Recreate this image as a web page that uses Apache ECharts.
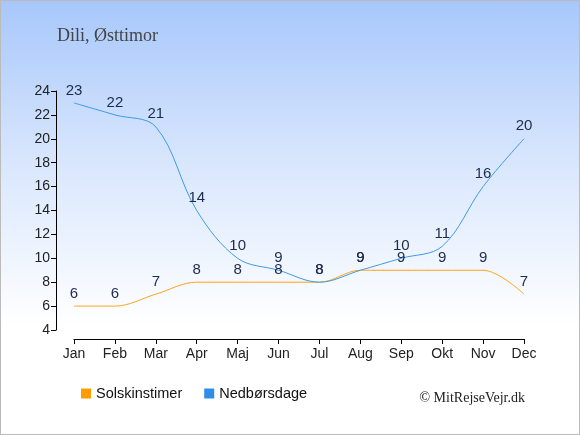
<!DOCTYPE html>
<html><head><meta charset="utf-8">
<script src="https://cdn.jsdelivr.net/npm/echarts@6/dist/echarts.min.js"></script>
<style>
html,body{margin:0;padding:0;}
#c{width:580px;height:435px;box-sizing:border-box;border:1px solid #bbb;background:linear-gradient(to bottom,#a7c7fb 0%,#d6e5fd 35%,#ffffff 75%,#ffffff 100%);}
</style></head>
<body><div id="c"></div>
<script>
const months = ['Jan','Feb','Mar','Apr','Maj','Jun','Jul','Aug','Sep','Okt','Nov','Dec'];
const solskinstimer = [6,6,7,8,8,8,8,9,9,9,9,7];
const nedboersdage = [23,22,21,14,10,9,8,9,10,11,16,20];
const yTicks = {min:4, max:24, interval:2};

const chart = echarts.init(document.getElementById('c'));
const labelStyle = {show:true, position:'top', distance:5, color:'#1d2b4a', fontSize:15, fontFamily:'Liberation Sans, Arial, sans-serif'};
chart.setOption({
  animation:false,
  title:{text:'Dili, Østtimor', left:51, top:21, textStyle:{fontFamily:'Liberation Serif, DejaVu Serif, serif', fontWeight:'normal', fontSize:18, color:'#444'}},
  grid:{left:73, right:55, top:90, bottom:104},
  legend:{bottom:28, left:75, itemWidth:10, itemHeight:10, itemGap:22, icon:'rect',
    textStyle:{fontFamily:'Liberation Sans, Arial, sans-serif', fontSize:14.5, color:'#111'},
    data:['Solskinstimer','Nedbørsdage']},
  graphic:[{type:'text', right:54, bottom:29, style:{text:'© MitRejseVejr.dk', font:'14px "Liberation Serif", serif', fill:'#222'}}],
  xAxis:{type:'category', data:months, boundaryGap:false, offset:9,
    axisLine:{onZero:false, lineStyle:{color:'#000'}}, axisTick:{alignWithLabel:true, length:5, lineStyle:{color:'#000'}},
    axisLabel:{color:'#222', fontSize:14, margin:8, fontFamily:'Liberation Sans, Arial, sans-serif'}},
  yAxis:{type:'value', min:yTicks.min, max:yTicks.max, interval:yTicks.interval, offset:18,
    splitLine:{show:false}, axisLine:{show:true, onZero:false, lineStyle:{color:'#000'}}, axisTick:{show:true, length:5, lineStyle:{color:'#000'}},
    axisLabel:{color:'#222', fontSize:14, margin:6, fontFamily:'Liberation Sans, Arial, sans-serif'}},
  series:[
    {name:'Solskinstimer', type:'line', data:solskinstimer, smooth:0.35, showSymbol:true, symbol:'circle', symbolSize:0,
      color:'#ff9c00', lineStyle:{width:1, color:'#ffa31a'}, label:labelStyle, labelLayout:{hideOverlap:false}},
    {name:'Nedbørsdage', type:'line', data:nedboersdage, smooth:0.35, showSymbol:true, symbol:'circle', symbolSize:0,
      color:'#2e8ee6', lineStyle:{width:1, color:'#3d9ae8'}, label:labelStyle, labelLayout:{hideOverlap:false}}
  ]
});
</script></body></html>
